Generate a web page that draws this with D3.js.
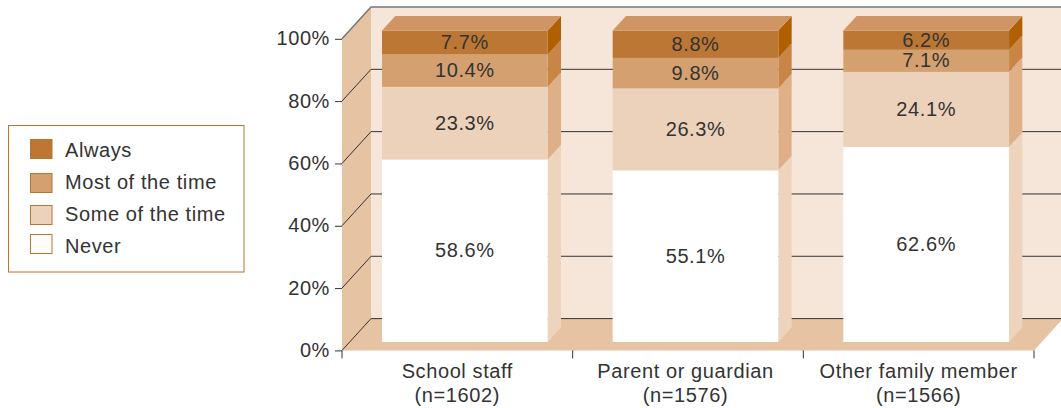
<!DOCTYPE html>
<html><head><meta charset="utf-8">
<script src="https://cdn.jsdelivr.net/npm/d3@7"></script>
<style>
html,body{margin:0;padding:0;background:#fff}
svg{display:block}
text{font-family:"Liberation Sans",Arial,sans-serif;fill:#333;letter-spacing:0.6px}
</style></head><body>
<svg id="c" width="1061" height="408"></svg>
<script>
const categories = ["School staff","Parent or guardian","Other family member"];
const sampleLabels = ["(n=1602)","(n=1576)","(n=1566)"];
const seriesNames = ["Never","Some of the time","Most of the time","Always"];
const never = [58.6,55.1,62.6];
const some = [23.3,26.3,24.1];
const most = [10.4,9.8,7.1];
const always = [7.7,8.8,6.2];
const yTicks = [0,20,40,60,80,100];
const frontColors = ["#ffffff","#edd2bb","#d5a06f","#bd7735"];
const sideColors = ["#eed3bd","#dfb088","#c88545","#b06000"];

const svg = d3.select("#c");
const x = d3.scaleBand().domain(categories).range([342,1034]);
const y = d3.scaleLinear().domain([0,100]).range([350.4,38.8]);
const wallDx = 29, wallDy = -31.8;
const barY = d3.scaleLinear().domain([0,100]).range([342,30.5]);
const barInsetL = 40, barW = 165.7, barDx = 13.3, barDy = -14.6;
const labelNudge = [0,-2.5,0];
const swatchTop = [139,173,205,234];
const poly = pts => pts.map(p=>p.join(",")).join(" ");

// walls and floor
const [x0,x1] = x.range();
const wall = svg.append("g");
wall.append("rect").attr("x",x0+wallDx).attr("y",y(100)+wallDy).attr("width",1061-x0-wallDx).attr("height",y(0)-y(100)).attr("fill","#f6e6da");
wall.append("polygon").attr("fill","#e6c3a3").attr("points",poly([[x0,y(0)],[x0,y(100)],[x0+wallDx,y(100)+wallDy],[x0+wallDx,y(0)+wallDy]]));
wall.append("polygon").attr("fill","#e6c3a3").attr("points",poly([[x0,y(0)],[x1,y(0)],[x1+wallDx,y(0)+wallDy],[x0+wallDx,y(0)+wallDy]]));

// grid lines: diagonal on the side wall, horizontal on the back wall
const grid = svg.append("g").attr("stroke","#333").attr("stroke-width",1).attr("fill","none");
yTicks.forEach(t=>{
  grid.append("polyline").attr("stroke",t===100?"#777":"#333").attr("stroke-width",t===100?1.5:1)
    .attr("points",poly([[x0,y(t)],[x0+wallDx,y(t)+wallDy],[1061,y(t)+wallDy]]));
});

// axes
const yAxis = svg.append("g").attr("transform",`translate(${x0},0)`)
  .call(d3.axisLeft(y).tickValues(yTicks).tickSize(7).tickPadding(5).tickFormat(d=>d+"%"));
yAxis.select(".domain").remove();
yAxis.selectAll("line").attr("stroke","#333");
yAxis.selectAll("text").attr("font-size",20).attr("fill","#333").attr("dy","0.3em").style("font-family",'"Liberation Sans",Arial,sans-serif');

const boundaries = [...categories.map(c=>x(c)), x1];
svg.append("g").selectAll("line").data(boundaries).join("line")
  .attr("x1",d=>d).attr("x2",d=>d).attr("y1",y(0)).attr("y2",y(0)+8).attr("stroke","#333");

// stacked 3D bars
const rows = categories.map((c,i)=>({cat:c,Never:never[i],"Some of the time":some[i],"Most of the time":most[i],Always:always[i]}));
const stacked = d3.stack().keys(seriesNames)(rows);
const bars = svg.append("g");
stacked.forEach((layer,si)=>{
  layer.forEach(d=>{
    const bx = x(d.data.cat)+barInsetL, bw = barW;
    const yb = barY(d[0]), yt = barY(d[1]);
    bars.append("polygon").attr("fill",sideColors[si])
      .attr("points",poly([[bx+bw,yb],[bx+bw,yt],[bx+bw+barDx,yt+barDy],[bx+bw+barDx,yb+barDy]]));
    bars.append("rect").attr("x",bx).attr("y",yt).attr("width",bw).attr("height",yb-yt).attr("fill",frontColors[si]);
    if(si===seriesNames.length-1){
      bars.append("polygon").attr("fill","#d09565")
        .attr("points",poly([[bx,yt],[bx+bw,yt],[bx+bw+barDx,yt+barDy],[bx+barDx,yt+barDy]]));
    }
    bars.append("text").attr("x",bx+bw/2).attr("y",(yb+yt)/2+6.5).attr("text-anchor","middle")
      .attr("font-size",20).text(d3.format(".1f")(d[1]-d[0])+"%");
  });
});

// category labels
const labels = svg.append("g").attr("text-anchor","middle").attr("font-size",20);
categories.forEach((c,i)=>{
  const cx = x(c)+x.bandwidth()/2+labelNudge[i];
  labels.append("text").attr("x",cx).attr("y",378).text(c);
  labels.append("text").attr("x",cx).attr("y",402).text(sampleLabels[i]);
});

// legend
const legend = svg.append("g");
legend.append("rect").attr("x",8.5).attr("y",125.5).attr("width",235.5).attr("height",146.5).attr("fill","#fff").attr("stroke","#b9762f");
const legendOrder = [...seriesNames].reverse();
const legendY = d3.scalePoint().domain(legendOrder).range([150,246]);
legendOrder.forEach((n,i)=>{
  const c = frontColors[seriesNames.indexOf(n)];
  legend.append("rect").attr("x",30.5).attr("y",swatchTop[i]+0.5).attr("width",21.5).attr("height",19)
    .attr("fill",n==="Never"?"#fdfcf8":c).attr("stroke","#b9762f");
  legend.append("text").attr("x",65).attr("y",legendY(n)+7).attr("font-size",20).text(n);
});
</script>
</body></html>
